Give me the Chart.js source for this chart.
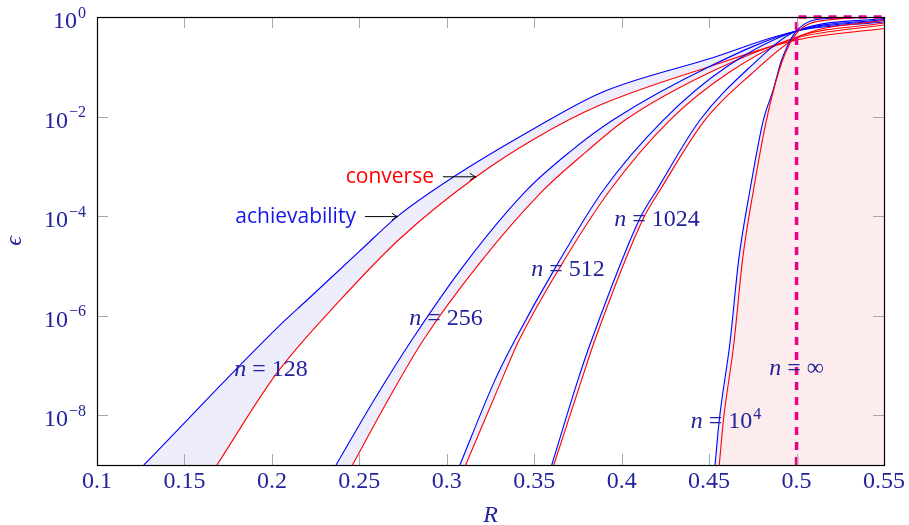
<!DOCTYPE html>
<html>
<head>
<meta charset="utf-8">
<script src="https://cdn.jsdelivr.net/npm/chart.js@4.4.1/dist/chart.umd.min.js"></script>
<style>
  body { margin: 0; background: #fff; }
  #wrap { width: 909px; height: 525px; }
</style>
</head>
<body>
<div id="wrap"><canvas id="boundsChart" width="909" height="525"></canvas></div>
<script>
// Rates R and log10(epsilon).
// "A" = achievability (blue), "C" = converse (red)
const rate128A = [0.1268, 0.2046, 0.22, 0.25, 0.272, 0.3035, 0.35, 0.3876, 0.45, 0.5, 0.55];
const logEps128A = [-9, -6.19, -5.69, -4.71, -4.0, -3.22, -2.24, -1.53, -0.84, -0.28, -0.1];
const rate128C = [0.1686, 0.2027, 0.239, 0.273, 0.316, 0.35, 0.3876, 0.45, 0.5, 0.55];
const logEps128C = [-9, -7.16, -5.69, -4.46, -3.23, -2.45, -1.77, -1.0, -0.46, -0.23];

const rate256A = [0.2367, 0.258, 0.28, 0.31, 0.3457, 0.37, 0.395, 0.45, 0.5, 0.55];
const logEps256A = [-9, -7.72, -6.49, -4.98, -3.48, -2.72, -2.07, -1.0, -0.28, -0.07];
const rate256C = [0.2461, 0.266, 0.2866, 0.318, 0.3552, 0.38, 0.402, 0.45, 0.5, 0.55];
const logEps256C = [-9, -7.72, -6.49, -4.98, -3.48, -2.7, -2.07, -1.12, -0.42, -0.16];

const rate512A = [0.3075, 0.3276, 0.339, 0.362, 0.3895, 0.4238, 0.46, 0.5, 0.55];
const logEps512A = [-9, -7.29, -6.49, -5.04, -3.48, -2.07, -1.0, -0.28, -0.05];
const rate512C = [0.3108, 0.3314, 0.3414, 0.3645, 0.3933, 0.4276, 0.462, 0.5, 0.55];
const logEps512C = [-9, -7.29, -6.49, -5.04, -3.48, -2.07, -1.1, -0.4, -0.12];

const rate1024A = [0.36, 0.375, 0.3828, 0.4105, 0.42, 0.4448, 0.472, 0.5, 0.55];
const logEps1024A = [-9, -7.29, -6.49, -4.04, -3.48, -2.07, -1.05, -0.28, -0.03];
const rate1024C = [0.3612, 0.3771, 0.3847, 0.4125, 0.4219, 0.4476, 0.474, 0.5, 0.55];
const logEps1024C = [-9, -7.29, -6.49, -4.04, -3.48, -2.07, -1.15, -0.42, -0.06];

const rate10kA = [0.4534, 0.4558, 0.4619, 0.4669, 0.4737, 0.481, 0.4866, 0.4914, 0.5, 0.518, 0.55];
const logEps10kA = [-9, -8.1, -6.55, -4.88, -3.41, -2.07, -1.47, -0.87, -0.28, -0.03, 0];
const rate10kC = [0.4558, 0.4582, 0.4642, 0.4691, 0.4757, 0.4828, 0.4917, 0.5, 0.5178, 0.55];
const logEps10kC = [-9, -8.1, -6.55, -4.88, -3.41, -2.07, -0.9, -0.33, -0.06, 0];

// shaded region right of the n = 10^4 converse, under the lowest converse curve
const rateShade = [0.4558, 0.4582, 0.4642, 0.4691, 0.4757, 0.4828, 0.4917, 0.5, 0.55];
const logEpsShade = [-9, -8.1, -6.55, -4.88, -3.41, -2.07, -0.9, -0.46, -0.23];

// n = infinity: capacity 0.5
const rateInf = [0.5, 0.5, 0.55];
const logEpsInf = [-9, 0, 0];

const yTickExps = [0, -2, -4, -6, -8];

// text labels (R, log10 eps)
const nLabels = [
  { num: '128', r: 0.1995, e: -7.05 },
  { num: '256', r: 0.2995, e: -6.03 },
  { num: '512', r: 0.3693, e: -5.04 },
  { num: '1024', r: 0.4202, e: -4.04 },
  { num: '10', exp: '4', r: 0.4596, e: -8.10 },
  { num: '\u221E', r: 0.5, e: -7.03 }
];
const arrowLabels = [
  { text: 'achievability', color: '#1414f0', r0: 0.2532, r1: 0.2720, e: -4.01 },
  { text: 'converse', color: '#ff0000', r0: 0.2978, r1: 0.3167, e: -3.21 }
];

const navy = '#22229c';
const serif = "'Liberation Serif', 'DejaVu Serif', serif";
const blue = '#0000ff';
const red = '#ff0000';
const lavender = '#ededfb';
const pink = '#fdeced';

function toPoints(rates, logs) {
  return rates.map(function(r, i) { return { x: r, y: Math.pow(10, logs[i]) }; });
}

function curve(rates, logs, color, fillColor) {
  return {
    data: toPoints(rates, logs),
    borderColor: color,
    borderWidth: 1.1,
    pointRadius: 0,
    fill: 'start',
    backgroundColor: fillColor,
    cubicInterpolationMode: 'monotone'
  };
}

// draws frame, inside ticks and all text labels
const decorations = {
  id: 'decorations',
  afterDatasetsDraw(chart) {
    const ctx = chart.ctx;
    const xs = chart.scales.x;
    const ys = chart.scales.y;
    const a = chart.chartArea;
    ctx.save();

    // tick marks inside the frame
    ctx.strokeStyle = '#a8a8a8';
    ctx.lineWidth = 1;
    ctx.beginPath();
    xs.ticks.forEach(function(t) {
      const px = Math.round(xs.getPixelForValue(t.value)) + 0.5;
      ctx.moveTo(px, a.bottom); ctx.lineTo(px, a.bottom - 11);
      ctx.moveTo(px, a.top); ctx.lineTo(px, a.top + 11);
    });
    yTickExps.forEach(function(e) {
      const py = Math.round(ys.getPixelForValue(Math.pow(10, e))) + 0.5;
      ctx.moveTo(a.left, py); ctx.lineTo(a.left + 11, py);
      ctx.moveTo(a.right, py); ctx.lineTo(a.right - 11, py);
    });
    ctx.stroke();

    // frame
    ctx.strokeStyle = '#000';
    ctx.lineWidth = 1.2;
    ctx.strokeRect(Math.round(a.left) + 0.5, Math.round(a.top) + 0.5,
      Math.round(a.right - a.left), Math.round(a.bottom - a.top));

    // y tick labels 10^k
    ctx.fillStyle = navy;
    ctx.textBaseline = 'alphabetic';
    ctx.textAlign = 'right';
    yTickExps.forEach(function(e) {
      const py = ys.getPixelForValue(Math.pow(10, e));
      const expText = e === 0 ? '0' : '\u2212' + Math.abs(e);
      ctx.font = '16px ' + serif;
      const w = ctx.measureText(expText).width;
      ctx.fillText(expText, a.left - 11, py + 0.5);
      ctx.font = '24px ' + serif;
      ctx.fillText('10', a.left - 12 - w, py + 11);
    });

    // n = ... labels
    ctx.textAlign = 'left';
    nLabels.forEach(function(l) {
      const cx = xs.getPixelForValue(l.r);
      const cy = ys.getPixelForValue(Math.pow(10, l.e));
      ctx.font = 'italic 24px ' + serif;
      const wn = ctx.measureText('n').width;
      ctx.font = '24px ' + serif;
      const weq = ctx.measureText(' = ').width;
      const wnum = ctx.measureText(l.num).width;
      ctx.font = '16px ' + serif;
      const wexp = l.exp ? ctx.measureText(l.exp).width + 1 : 0;
      let x = cx - (wn + weq + wnum + wexp) / 2;
      const base = cy + 8;
      ctx.font = 'italic 24px ' + serif;
      ctx.fillText('n', x, base); x += wn;
      ctx.font = '24px ' + serif;
      ctx.fillText(' = ', x, base); x += weq;
      ctx.fillText(l.num, x, base); x += wnum;
      if (l.exp) {
        ctx.font = '16px ' + serif;
        ctx.fillText(l.exp, x + 1, base - 9);
      }
    });

    // achievability / converse with arrows
    arrowLabels.forEach(function(l) {
      const x0 = xs.getPixelForValue(l.r0);
      const x1 = xs.getPixelForValue(l.r1);
      const py = ys.getPixelForValue(Math.pow(10, l.e));
      ctx.font = "21px 'Open Sans', 'DejaVu Sans', sans-serif";
      ctx.fillStyle = l.color;
      ctx.textAlign = 'right';
      ctx.fillText(l.text, x0 - 9, py + 6);
      ctx.strokeStyle = '#000';
      ctx.lineWidth = 1;
      ctx.beginPath();
      ctx.moveTo(x0, py); ctx.lineTo(x1, py);
      ctx.moveTo(x1 - 6, py - 3.5); ctx.quadraticCurveTo(x1 - 2, py - 0.5, x1, py);
      ctx.moveTo(x1 - 6, py + 3.5); ctx.quadraticCurveTo(x1 - 2, py + 0.5, x1, py);
      ctx.stroke();
    });

    ctx.restore();
  }
};

const ctxEl = document.getElementById('boundsChart');
new Chart(ctxEl, {
  type: 'line',
  data: {
    datasets: [
      {
        data: toPoints(rateInf, logEpsInf),
        borderColor: '#ec008c',
        borderWidth: 3.5,
        borderDash: [8, 7],
        pointRadius: 0,
        fill: false,
        clip: 2
      },
      {
        data: toPoints(rateShade, logEpsShade),
        borderWidth: 0,
        borderColor: 'rgba(0,0,0,0)',
        pointRadius: 0,
        fill: 'start',
        backgroundColor: pink,
        cubicInterpolationMode: 'monotone'
      },
      curve(rate10kC, logEps10kC, red, '#ffffff'),
      curve(rate10kA, logEps10kA, blue, lavender),
      curve(rate1024C, logEps1024C, red, '#ffffff'),
      curve(rate1024A, logEps1024A, blue, lavender),
      curve(rate512C, logEps512C, red, '#ffffff'),
      curve(rate512A, logEps512A, blue, lavender),
      curve(rate256C, logEps256C, red, '#ffffff'),
      curve(rate256A, logEps256A, blue, lavender),
      curve(rate128C, logEps128C, red, '#ffffff'),
      curve(rate128A, logEps128A, blue, lavender)
    ]
  },
  options: {
    responsive: false,
    animation: false,
    layout: { padding: { top: 17, right: 25, left: 0, bottom: 0 } },
    plugins: {
      legend: { display: false },
      tooltip: { enabled: false },
      filler: { drawTime: 'beforeDatasetsDraw' }
    },
    scales: {
      x: {
        type: 'linear',
        min: 0.1,
        max: 0.55,
        grid: { display: false, drawTicks: false },
        border: { display: false },
        ticks: {
          stepSize: 0.05,
          padding: 2,
          color: navy,
          font: { family: serif, size: 24 },
          maxRotation: 0,
          autoSkip: false,
          callback: function(v) { return String(Number(v.toFixed(2))); }
        },
        title: {
          display: true,
          text: 'R',
          color: navy,
          padding: { top: 0, bottom: 0 },
          font: { family: serif, size: 24, style: 'italic', lineHeight: 0.8 }
        },
        afterFit: function(s) { s.height = 60; }
      },
      y: {
        type: 'logarithmic',
        min: 1e-9,
        max: 1,
        grid: { display: false, drawTicks: false },
        border: { display: false },
        ticks: { display: false },
        title: {
          display: true,
          text: '\u03F5',
          color: navy,
          padding: { top: 0, bottom: 0 },
          font: { family: serif, size: 24, style: 'italic', lineHeight: 1.25 }
        },
        afterFit: function(s) { s.width = 97; }
      }
    }
  },
  plugins: [decorations]
});
</script>
</body>
</html>
